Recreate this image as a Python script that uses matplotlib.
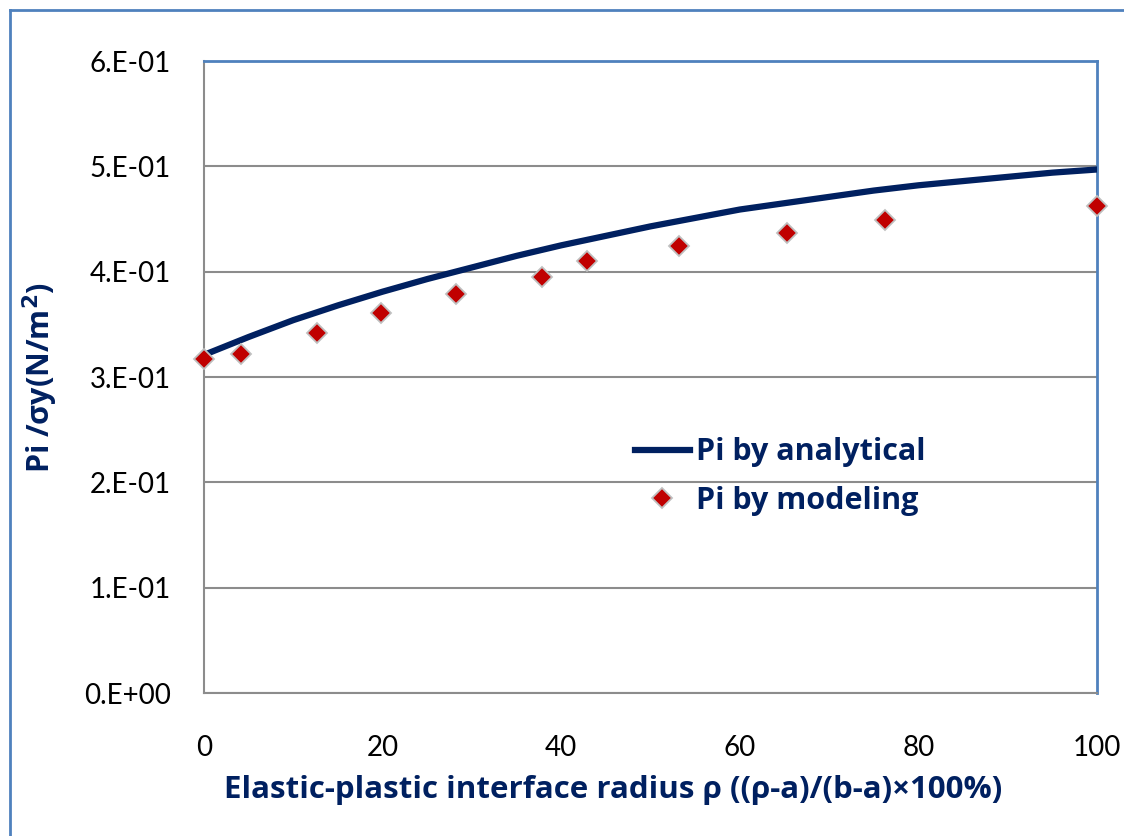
import numpy as np
from matplotlib import pyplot as plt
from matplotlib.lines import Line2D

# Analytical curve.
ANALYTICAL_X = [0, 5, 10, 15, 20, 25, 30, 35, 40, 45, 50,
                55, 60, 65, 70, 75, 80, 85, 90, 95, 100]
ANALYTICAL_Y = [0.321, 0.338, 0.354, 0.368, 0.381, 0.393, 0.404, 0.415, 0.425, 0.434, 0.443,
                0.451, 0.459, 0.465, 0.471, 0.477, 0.482, 0.486, 0.490, 0.494, 0.497]

# Modeling points.
MODEL_X = [0, 4.1, 12.7, 19.8, 28.2, 37.8, 42.9, 53.2, 65.3, 76.3, 100]
MODEL_Y = [0.317, 0.322, 0.342, 0.361, 0.379, 0.395, 0.410, 0.424, 0.437, 0.449, 0.462]

Y_TICKS = [0.0, 0.1, 0.2, 0.3, 0.4, 0.5, 0.6]
Y_LABELS = ['0.E+00', '1.E-01', '2.E-01', '3.E-01', '4.E-01', '5.E-01', '6.E-01']
X_TICKS = [0, 20, 40, 60, 80, 100]

NAVY = '#002060'
RED = '#C00000'
BLUE = '#4F81BD'
GRID = '#8C8C8C'

plt.rcParams['font.family'] = ['Lato', 'DejaVu Sans']
BOLD_FONT = ['Open Sans', 'DejaVu Sans']

fig = plt.figure(figsize=(11.24, 8.36), dpi=100)
W, H = 1124, 836
ax = fig.add_axes([204 / W, 1 - 693 / H, (1097 - 204) / W, (693 - 61) / H])

ax.plot(ANALYTICAL_X, ANALYTICAL_Y, color=NAVY, linewidth=4.5,
        solid_capstyle='round', solid_joinstyle='round', zorder=3)
ax.plot(MODEL_X, MODEL_Y, linestyle='None', marker='D', markersize=10,
        color=RED, markeredgecolor='#BFBFBF', markeredgewidth=1.3,
        zorder=4, clip_on=False)

ax.set_xlim(0, 100)
ax.set_ylim(0, 0.6)
ax.set_yticks(Y_TICKS)
ax.set_yticklabels(Y_LABELS)
ax.set_xticks(X_TICKS)
ax.tick_params(length=0, labelsize=20, labelcolor='black')
ax.tick_params(axis='y', pad=24)
ax.tick_params(axis='x', pad=30)

ax.grid(True, axis='y', color=GRID, linewidth=1.5)
ax.set_axisbelow(True)
ax.spines['left'].set_color(GRID)
ax.spines['bottom'].set_color(GRID)
ax.spines['left'].set_linewidth(1.5)
ax.spines['bottom'].set_linewidth(1.5)
ax.spines['top'].set_color(BLUE)
ax.spines['right'].set_color(BLUE)
ax.spines['top'].set_linewidth(2)
ax.spines['right'].set_linewidth(2)

# Axis titles placed like the Excel chart.
fig.text(613 / W, 1 - 790 / H,
         'Elastic-plastic interface radius ρ ((ρ-a)/(b-a)×100%)',
         fontsize=22.5, fontweight='bold', color=NAVY, family=BOLD_FONT,
         ha='center', va='center')
fig.text(40 / W, 1 - 377 / H, 'Pi /σy(N/m$^\\mathbf{2}$)', fontsize=22,
         fontweight='bold', color=NAVY, family=BOLD_FONT, rotation=90,
         ha='center', va='center')

handles = [Line2D([], [], color=NAVY, linewidth=4.5),
           Line2D([], [], linestyle='None', marker='D', markersize=10, color=RED,
                  markeredgecolor='#BFBFBF', markeredgewidth=1.3)]
leg = ax.legend(handles, ['Pi by analytical', 'Pi by modeling'],
                loc='upper left', bbox_to_anchor=(607 / W, 1 - 410 / H),
                bbox_transform=fig.transFigure, frameon=False,
                prop={'family': BOLD_FONT, 'weight': 'bold', 'size': 22},
                handlelength=1.8, handletextpad=0.2, labelspacing=0.6)
for txt in leg.get_texts():
    txt.set_color(NAVY)

# Chart area border (left and top visible).
fig.add_artist(Line2D([10 / W, 10 / W], [0, 1 - 10 / H], color=BLUE,
                      linewidth=2, transform=fig.transFigure))
fig.add_artist(Line2D([10 / W, 1], [1 - 10 / H, 1 - 10 / H], color=BLUE,
                      linewidth=2, transform=fig.transFigure))

plt.savefig('out.png', dpi=100)
